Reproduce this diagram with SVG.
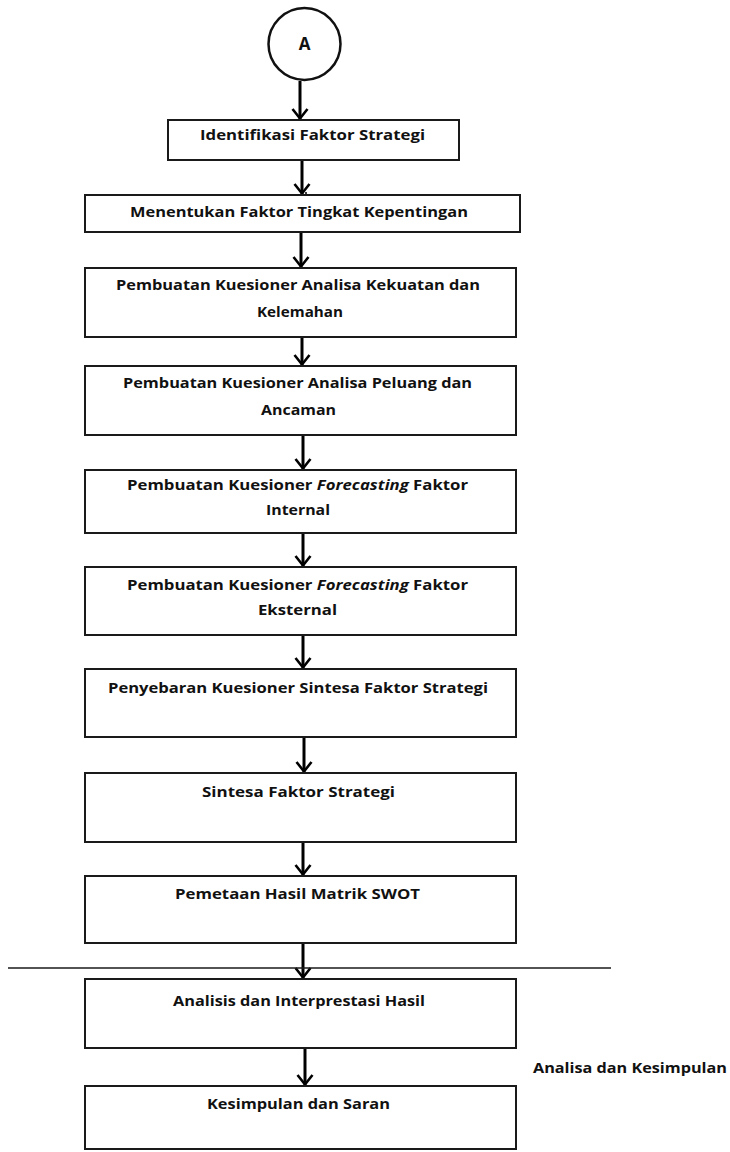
<svg xmlns="http://www.w3.org/2000/svg" width="730" height="1152" viewBox="0 0 730 1152">
  <style>
    .box { fill: #ffffff; stroke: #1a1a1a; stroke-width: 2; }
    .lbl { font-family: "Open Sans", "Liberation Sans", Arial, sans-serif; font-weight: bold; font-size: 14px; fill: #111111; text-anchor: middle; }
    .flow { stroke: #000000; stroke-width: 3; fill: none; marker-end: url(#chev); }
    .rule { stroke: #1a1a1a; stroke-width: 1.5; }
    .it { font-style: italic; }
  </style>
  <defs>
    <!-- open chevron arrowhead, tip at the line end -->
    <marker id="chev" markerWidth="14" markerHeight="20" viewBox="-12 -10 14 20" refX="0" refY="0" orient="auto" markerUnits="userSpaceOnUse">
      <path d="M-10,-7.5 L-0.5,0 L-10,7.5" fill="none" stroke="#000" stroke-width="2.6" stroke-linejoin="miter"/>
    </marker>
  </defs>
  <rect width="730" height="1152" fill="#ffffff"/>

  <!-- connectors -->
  <g id="connectors">
    <line class="flow" x1="300" y1="81" x2="300" y2="119"/>
    <line class="flow" x1="302" y1="161" x2="302" y2="194"/>
    <line x1="306" y1="192" x2="306" y2="205" stroke="#000" stroke-width="1.5"/>
    <line class="flow" x1="301" y1="233" x2="301" y2="267"/>
    <line class="flow" x1="302" y1="338" x2="302" y2="365"/>
    <line class="flow" x1="303" y1="436" x2="303" y2="469"/>
    <line class="flow" x1="303" y1="534" x2="303" y2="566"/>
    <line class="flow" x1="303" y1="636" x2="303" y2="668"/>
    <line class="flow" x1="304" y1="738" x2="304" y2="772"/>
    <line class="flow" x1="303" y1="843" x2="303" y2="875"/>
    <line class="flow" x1="303" y1="944" x2="303" y2="978"/>
    <line class="flow" x1="305" y1="1049" x2="305" y2="1085"/>
  </g>

  <!-- section divider -->
  <line class="rule" x1="8" y1="968" x2="611" y2="968"/>

  <g id="start-A">
    <circle cx="304.5" cy="44" r="36" fill="#fff" stroke="#111" stroke-width="2.5"/>
    <text class="lbl" x="304.5" y="50" style="font-size:17px">A</text>
  </g>

  <g id="n1">
    <rect class="box" x="168" y="120" width="291" height="40"/>
    <text class="lbl" x="312.5" y="140" textLength="225" lengthAdjust="spacingAndGlyphs">Identifikasi Faktor Strategi</text>
  </g>

  <g id="n2">
    <rect class="box" x="85" y="195" width="435" height="37"/>
    <text class="lbl" x="299" y="217" textLength="338" lengthAdjust="spacingAndGlyphs">Menentukan Faktor Tingkat Kepentingan</text>
  </g>

  <g id="n3">
    <rect class="box" x="85" y="268" width="431" height="69"/>
    <text class="lbl" x="298" y="290" textLength="364" lengthAdjust="spacingAndGlyphs">Pembuatan Kuesioner Analisa Kekuatan dan</text>
    <text class="lbl" x="300" y="317" textLength="86" lengthAdjust="spacingAndGlyphs">Kelemahan</text>
  </g>

  <g id="n4">
    <rect class="box" x="85" y="366" width="431" height="69"/>
    <text class="lbl" x="297.5" y="388" textLength="349" lengthAdjust="spacingAndGlyphs">Pembuatan Kuesioner Analisa Peluang dan</text>
    <text class="lbl" x="298.5" y="415" textLength="75" lengthAdjust="spacingAndGlyphs">Ancaman</text>
  </g>

  <g id="n5">
    <rect class="box" x="85" y="470" width="431" height="63"/>
    <text class="lbl" x="297.5" y="490" textLength="341" lengthAdjust="spacingAndGlyphs">Pembuatan Kuesioner <tspan class="it">Forecasting</tspan> Faktor</text>
    <text class="lbl" x="298" y="515" textLength="64" lengthAdjust="spacingAndGlyphs">Internal</text>
  </g>

  <g id="n6">
    <rect class="box" x="85" y="567" width="431" height="68"/>
    <text class="lbl" x="297.5" y="590" textLength="341" lengthAdjust="spacingAndGlyphs">Pembuatan Kuesioner <tspan class="it">Forecasting</tspan> Faktor</text>
    <text class="lbl" x="297.5" y="615" textLength="79" lengthAdjust="spacingAndGlyphs">Eksternal</text>
  </g>

  <g id="n7">
    <rect class="box" x="85" y="669" width="431" height="68"/>
    <text class="lbl" x="298" y="693" textLength="380" lengthAdjust="spacingAndGlyphs">Penyebaran Kuesioner Sintesa Faktor Strategi</text>
  </g>

  <g id="n8">
    <rect class="box" x="85" y="773" width="431" height="69"/>
    <text class="lbl" x="298.5" y="797" textLength="193" lengthAdjust="spacingAndGlyphs">Sintesa Faktor Strategi</text>
  </g>

  <g id="n9">
    <rect class="box" x="85" y="876" width="431" height="67"/>
    <text class="lbl" x="297.5" y="899" textLength="245" lengthAdjust="spacingAndGlyphs">Pemetaan Hasil Matrik SWOT</text>
  </g>

  <g id="n10">
    <rect class="box" x="85" y="979" width="431" height="69"/>
    <text class="lbl" x="299" y="1006" textLength="252" lengthAdjust="spacingAndGlyphs">Analisis dan Interprestasi Hasil</text>
  </g>

  <g id="n11">
    <rect class="box" x="85" y="1086" width="431" height="63"/>
    <text class="lbl" x="298.5" y="1109" textLength="183" lengthAdjust="spacingAndGlyphs">Kesimpulan dan Saran</text>
  </g>

  <g id="section-label">
    <text class="lbl" x="630" y="1073" textLength="194" lengthAdjust="spacingAndGlyphs">Analisa dan Kesimpulan</text>
  </g>
</svg>
